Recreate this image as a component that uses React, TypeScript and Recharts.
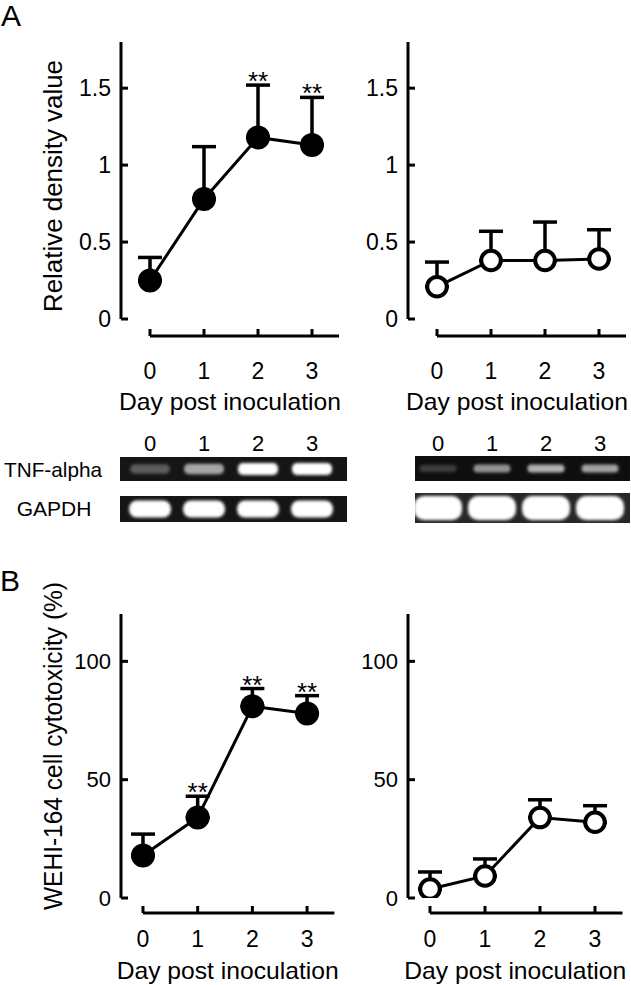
import React from 'react';
import { LineChart, Line, XAxis, YAxis, ErrorBar, ReferenceLine, LabelList } from 'recharts';

const FONT = "'Liberation Sans', Arial, Helvetica, sans-serif";

// ---------- data ----------
const days = [0, 1, 2, 3];
const dayTicks = [0, 1, 2, 3];

const densityTicks = [0, 0.5, 1, 1.5];
const densityTreated = [0.25, 0.78, 1.18, 1.13];
const densityTreatedErr = [0.15, 0.34, 0.34, 0.31];
const densityTreatedSig = [false, false, true, true];
const densityControl = [0.21, 0.38, 0.38, 0.39];
const densityControlErr = [0.16, 0.19, 0.25, 0.19];
const densityControlSig = [false, false, false, false];

const cytoTicks = [0, 50, 100];
const cytoTreated = [18, 34, 81, 78];
const cytoTreatedErr = [9, 9, 7.5, 7.5];
const cytoTreatedSig = [false, true, true, true];
const cytoControl = [3.8, 9.3, 34, 32];
const cytoControlErr = [7.2, 7.2, 7.5, 7];
const cytoControlSig = [false, false, false, false];

const laneLabels = ['0', '1', '2', '3'];
const tnfTreatedBands = [0.3, 0.62, 1, 1];
const gapdhTreatedBands = [1, 1, 1, 1];
const tnfControlBands = [0.2, 0.55, 0.68, 0.62];
const gapdhControlBands = [1, 1, 1, 1];

type Row = { day: number; value: number; err: [number, number]; star: number | null };

function buildRows(values: number[], errs: number[], sig: boolean[]): Row[] {
  return days.map((d, i) => ({
    day: d,
    value: values[i],
    err: [0, errs[i]] as [number, number],
    star: sig[i] ? values[i] + errs[i] : null,
  }));
}

// ---------- axis ticks ----------
const XTick = (props: any) => {
  const { x, y, payload, gap, labelDy, fontSize } = props;
  return (
    <g>
      <line x1={x} x2={x} y1={y + gap} y2={y + gap - 7} stroke="#000" strokeWidth={3} />
      <text x={x} y={y + labelDy} textAnchor="middle" fontSize={fontSize} fontFamily={FONT} fill="#000">
        {payload.value}
      </text>
    </g>
  );
};

const YTick = (props: any) => {
  const { x, y, payload, fontSize } = props;
  return (
    <g>
      <line x1={x} x2={x + 7} y1={y} y2={y} stroke="#000" strokeWidth={3} />
      <text x={x - 10} y={y} textAnchor="end" dominantBaseline="central" fontSize={fontSize} fontFamily={FONT} fill="#000">
        {String(payload.value)}
      </text>
    </g>
  );
};

const StarLabel = (props: any) => {
  const { x, y, value } = props;
  if (value === null || value === undefined || x == null || y == null || isNaN(y)) return null;
  return (
    <text x={x} y={y + 5} textAnchor="middle" fontSize={26} fontFamily={FONT} fill="#000">
      **
    </text>
  );
};

type PanelProps = {
  left: number;
  top: number;
  width: number;
  height: number;
  marginTop: number;
  marginRight: number;
  yAxisWidth: number;
  plotBottom: number;
  xDomain: [number, number];
  yDomain: [number, number];
  yTicks: number[];
  rows: Row[];
  filled: boolean;
  xGap: number;
  xLabelDy: number;
  xTitleDy: number;
  yTickFont: number;
  yTitle?: string;
  yTitleX?: number;
  yTitleY?: number;
  yTitleLength?: number;
};

function Panel(p: PanelProps) {
  const xAxisHeight = p.height - p.plotBottom;
  const plotH = p.plotBottom - p.marginTop;
  const axisLineY = p.yDomain[0] - (p.xGap * (p.yDomain[1] - p.yDomain[0])) / plotH;
  const dotStyle = p.filled
    ? { r: 12, fill: '#000', stroke: '#000', strokeWidth: 0 }
    : { r: 9.8, fill: '#fff', stroke: '#000', strokeWidth: 4 };

  const xTitle = (lp: any) => {
    const vb = lp.viewBox || {};
    const cx = (vb.x ?? 0) + (vb.width ?? 0) / 2;
    const y = (vb.y ?? p.plotBottom) + p.xTitleDy;
    return (
      <text x={cx} y={y} textAnchor="middle" fontSize={24} fontFamily={FONT} fill="#000" textLength={222} lengthAdjust="spacingAndGlyphs">
        Day post inoculation
      </text>
    );
  };

  const yTitle = () => {
    if (!p.yTitle) return null;
    return (
      <text
        x={p.yTitleX}
        y={p.yTitleY}
        transform={`rotate(-90, ${p.yTitleX}, ${p.yTitleY})`}
        textAnchor="middle"
        fontSize={25}
        fontFamily={FONT}
        fill="#000"
        textLength={p.yTitleLength}
        lengthAdjust="spacingAndGlyphs"
      >
        {p.yTitle}
      </text>
    );
  };

  return (
    <div style={{ position: 'absolute', left: p.left, top: p.top, width: p.width, height: p.height }}>
      <LineChart
        width={p.width}
        height={p.height}
        data={p.rows}
        margin={{ top: p.marginTop, right: p.marginRight, left: 0, bottom: 0 }}
      >
        <XAxis
          dataKey="day"
          type="number"
          domain={p.xDomain}
          ticks={dayTicks}
          interval={0}
          allowDataOverflow
          axisLine={false}
          tickLine={false}
          tickSize={0}
          tickMargin={0}
          height={xAxisHeight}
          tick={(tp: any) => <XTick {...tp} gap={p.xGap} labelDy={p.xLabelDy} fontSize={23} />}
          label={{ content: xTitle }}
        />
        <YAxis
          type="number"
          domain={p.yDomain}
          ticks={p.yTicks}
          interval={0}
          allowDataOverflow
          width={p.yAxisWidth}
          axisLine={{ stroke: '#000', strokeWidth: 3 }}
          tickLine={false}
          tickSize={0}
          tickMargin={0}
          tick={(tp: any) => <YTick {...tp} fontSize={p.yTickFont} />}
          label={{ content: yTitle }}
        />
        <ReferenceLine
          segment={[
            { x: 0, y: axisLineY },
            { x: p.xDomain[1], y: axisLineY },
          ]}
          stroke="#000"
          strokeWidth={3}
          ifOverflow="visible"
        />
        <Line
          dataKey="value"
          stroke="#000"
          strokeWidth={3}
          dot={false}
          activeDot={false}
          isAnimationActive={false}
        >
          <ErrorBar dataKey="err" direction="y" width={12} stroke="#000" strokeWidth={3.5} />
        </Line>
        <Line
          dataKey="value"
          stroke="none"
          dot={dotStyle}
          activeDot={false}
          isAnimationActive={false}
        />
        <Line dataKey="star" stroke="none" dot={false} activeDot={false} isAnimationActive={false}>
          <LabelList dataKey="star" content={StarLabel} />
        </Line>
      </LineChart>
    </div>
  );
}

// ---------- gel ----------
type GelRow = { x: number; y: number; w: number; h: number; bg: string; bandW: number; bandH: number; bandRx: number; intensities: number[]; lanes: number[] };

const leftLanes = [150, 204, 258, 312];
const rightLanes = [438, 492, 546, 600];

const gels: GelRow[] = [
  { x: 120, y: 457, w: 227, h: 24, bg: '#151515', bandW: 40, bandH: 12, bandRx: 5, intensities: tnfTreatedBands, lanes: leftLanes },
  { x: 120, y: 496, w: 227, h: 26, bg: '#151515', bandW: 42, bandH: 17, bandRx: 8, intensities: gapdhTreatedBands, lanes: leftLanes },
  { x: 415, y: 456, w: 215, h: 25, bg: '#0e0e0e', bandW: 37, bandH: 9, bandRx: 4, intensities: tnfControlBands, lanes: rightLanes },
  { x: 415, y: 493, w: 215, h: 30, bg: '#262626', bandW: 48, bandH: 24, bandRx: 10, intensities: gapdhControlBands, lanes: rightLanes },
];

function Overlay() {
  return (
    <svg width={631} height={985} style={{ position: 'absolute', left: 0, top: 0 }}>
      <defs>
        <filter id="gelBlur" x="-30%" y="-60%" width="160%" height="220%">
          <feGaussianBlur stdDeviation="1.6" />
        </filter>
      </defs>
      <text x={1} y={26} fontSize={30} fontFamily={FONT} fill="#000">A</text>
      <text x={0} y={591} fontSize={30} fontFamily={FONT} fill="#000">B</text>

      {leftLanes.map((lx, i) => (
        <text key={'ll' + i} x={lx} y={451} textAnchor="middle" fontSize={22} fontFamily={FONT} fill="#000">{laneLabels[i]}</text>
      ))}
      {rightLanes.map((lx, i) => (
        <text key={'rl' + i} x={lx} y={451} textAnchor="middle" fontSize={22} fontFamily={FONT} fill="#000">{laneLabels[i]}</text>
      ))}
      <text x={53} y={477} textAnchor="middle" fontSize={21} fontFamily={FONT} fill="#000" textLength={98} lengthAdjust="spacingAndGlyphs">TNF-alpha</text>
      <text x={54} y={516} textAnchor="middle" fontSize={21} fontFamily={FONT} fill="#000">GAPDH</text>

      {gels.map((g, gi) => (
        <g key={'gel' + gi}>
          <rect x={g.x} y={g.y} width={g.w} height={g.h} fill={g.bg} />
          {g.lanes.map((lx, i) => {
            const a = g.intensities[i];
            const bh = g.bandH * (0.7 + 0.3 * a);
            return (
              <rect
                key={i}
                x={lx - g.bandW / 2}
                y={g.y + g.h / 2 - bh / 2}
                width={g.bandW}
                height={bh}
                rx={g.bandRx}
                fill="#fff"
                fillOpacity={a}
                filter="url(#gelBlur)"
              />
            );
          })}
        </g>
      ))}
    </svg>
  );
}

export default function App() {
  const rowsTL = buildRows(densityTreated, densityTreatedErr, densityTreatedSig);
  const rowsTR = buildRows(densityControl, densityControlErr, densityControlSig);
  const rowsBL = buildRows(cytoTreated, cytoTreatedErr, cytoTreatedSig);
  const rowsBR = buildRows(cytoControl, cytoControlErr, cytoControlSig);

  return (
    <div style={{ position: 'absolute', left: 0, top: 0, width: 631, height: 985, background: '#fff', overflow: 'hidden' }}>
      <Overlay />
      <Panel
        left={0} top={0} width={345} height={420}
        marginTop={42} marginRight={6} yAxisWidth={121} plotBottom={319}
        xDomain={[-29 / 54, 3.5]} yDomain={[0, 1.8]} yTicks={densityTicks}
        rows={rowsTL} filled={true}
        xGap={17} xLabelDy={60} xTitleDy={91} yTickFont={23}
        yTitle="Relative density value" yTitleX={62} yTitleY={186} yTitleLength={252}
      />
      <Panel
        left={348} top={0} width={283} height={420}
        marginTop={42} marginRight={5} yAxisWidth={60} plotBottom={319}
        xDomain={[-29 / 54, 3.5]} yDomain={[0, 1.8]} yTicks={densityTicks}
        rows={rowsTR} filled={false}
        xGap={17} xLabelDy={60} xTitleDy={91} yTickFont={23}
      />
      <Panel
        left={0} top={540} width={340} height={445}
        marginTop={74} marginRight={5.6} yAxisWidth={121} plotBottom={358}
        xDomain={[-0.402, 3.5]} yDomain={[0, 120]} yTicks={cytoTicks}
        rows={rowsBL} filled={true}
        xGap={15} xLabelDy={49} xTitleDy={81} yTickFont={22}
        yTitle="WEHI-164 cell cytotoxicity (%)" yTitleX={62} yTitleY={206} yTitleLength={328}
      />
      <Panel
        left={348} top={540} width={283} height={445}
        marginTop={74} marginRight={8.5} yAxisWidth={60} plotBottom={358}
        xDomain={[-0.4, 3.5]} yDomain={[0, 120]} yTicks={cytoTicks}
        rows={rowsBR} filled={false}
        xGap={15} xLabelDy={49} xTitleDy={81} yTickFont={22}
      />
    </div>
  );
}
